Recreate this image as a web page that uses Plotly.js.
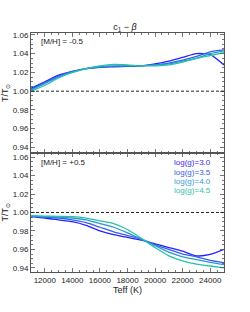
<!DOCTYPE html>
<html><head><meta charset="utf-8">
<script src="https://cdn.plot.ly/plotly-3.0.1.min.js"></script>
<style>html,body{margin:0;padding:0;background:#fff}#chart{width:250px;height:312px}</style>
</head><body><div id="chart"></div>
<script>
const teff = [11000,12000,13000,14000,15000,16000,17000,18000,19000,20000,21000,22000,23000,24000,25000];
const gravityLabels = ['log(g)=3.0','log(g)=3.5','log(g)=4.0','log(g)=4.5'];
const lineColors = ['#2323ff','#3560e8','#2f94d4','#22c4a6'];
const textColors = ['#3a2af5','#3b63e6','#3a9ad6','#2ec4a8'];
// [M/H] = -0.5
const metalPoor = [
  [1.003,1.010,1.017,1.021,1.024,1.0255,1.026,1.0265,1.027,1.029,1.032,1.036,1.040,1.039,1.028],
  [1.002,1.009,1.016,1.021,1.024,1.026,1.0265,1.027,1.027,1.028,1.030,1.033,1.037,1.042,1.044],
  [1.001,1.008,1.015,1.020,1.024,1.026,1.027,1.027,1.027,1.028,1.029,1.032,1.035,1.040,1.043],
  [1.000,1.006,1.014,1.020,1.024,1.027,1.0285,1.028,1.027,1.027,1.028,1.031,1.035,1.038,1.041]
];
// [M/H] = +0.5
const metalRich = [
  [0.9955,0.994,0.992,0.990,0.986,0.980,0.976,0.973,0.970,0.966,0.962,0.958,0.953,0.9545,0.960],
  [0.996,0.995,0.994,0.992,0.989,0.984,0.979,0.975,0.971,0.965,0.960,0.955,0.952,0.948,0.9455],
  [0.996,0.9955,0.995,0.994,0.992,0.988,0.984,0.978,0.971,0.964,0.957,0.952,0.949,0.946,0.9435],
  [0.9965,0.996,0.9958,0.9955,0.994,0.991,0.988,0.9815,0.972,0.962,0.953,0.9475,0.944,0.942,0.940]
];

const traces = [];
metalPoor.forEach((ys,i)=>traces.push({x:teff,y:ys,xaxis:'x2',yaxis:'y2',mode:'lines',
  line:{color:lineColors[i],width:1.3,shape:'spline',smoothing:0.6},showlegend:false,hoverinfo:'skip'}));
metalRich.forEach((ys,i)=>traces.push({x:teff,y:ys,xaxis:'x',yaxis:'y',mode:'lines',
  line:{color:lineColors[i],width:1.3,shape:'spline',smoothing:0.6},showlegend:false,hoverinfo:'skip'}));

const FONT = 'Liberation Sans, Arial, sans-serif';
const tickFont = {family:FONT,size:8,color:'#222'};
const frame = '#555';
function xax(extra){return Object.assign({range:[11000,25000],dtick:2000,tick0:12000,ticks:'inside',ticklen:4,
  tickcolor:frame,tickwidth:0.8,mirror:'allticks',showline:true,linecolor:frame,linewidth:1,showgrid:false,zeroline:false,
  minor:{dtick:500,ticklen:2,tickcolor:frame,ticks:'inside'},tickfont:tickFont,tickformat:'d'},extra);}
function yax(extra){return Object.assign({dtick:0.02,tick0:0.94,ticks:'inside',ticklen:4,
  tickcolor:frame,tickwidth:0.8,mirror:'allticks',showline:true,linecolor:frame,linewidth:1,showgrid:false,zeroline:false,
  minor:{dtick:0.005,ticklen:2,tickcolor:frame,ticks:'inside'},tickfont:tickFont,tickformat:'.2f',
  title:{text:'T/T<sub>\u2299</sub>',font:{family:FONT,size:9,color:'#222'},standoff:2}},extra);}

const annotations = [
  {xref:'x2 domain',yref:'y2 domain',x:0.04,y:0.93,xanchor:'left',yanchor:'middle',showarrow:false,text:'[M/H] = -0.5',font:{family:FONT,size:8,color:'#222'}},
  {xref:'x domain',yref:'y domain',x:0.04,y:0.915,xanchor:'left',yanchor:'middle',showarrow:false,text:'[M/H] = +0.5',font:{family:FONT,size:8,color:'#222'}}
];
gravityLabels.forEach((t,i)=>annotations.push({xref:'x domain',yref:'y domain',x:0.945,y:0.915-i*0.079,xanchor:'right',yanchor:'middle',
  showarrow:false,text:t,font:{family:FONT,size:8,color:textColors[i]}}));

const layout = {
  width:250,height:312,margin:{l:31,r:26,t:33,b:40},paper_bgcolor:'#fff',plot_bgcolor:'#fff',
  title:{text:'c<sub>1</sub> \u2212 <i>\u03b2</i>',x:0.5,xanchor:'center',y:0.913,yanchor:'middle',font:{family:FONT,size:9,color:'#222'}},
  xaxis:xax({anchor:'y',title:{text:'Teff (K)',font:{family:FONT,size:9,color:'#222'},standoff:3}}),
  xaxis2:xax({anchor:'y2',showticklabels:false,matches:'x'}),
  yaxis:yax({domain:[0,0.5],anchor:'x',range:[0.9355,1.065]}),
  yaxis2:yax({domain:[0.5,1],anchor:'x2',range:[0.9346,1.062]}),
  shapes:[
    {type:'line',xref:'x domain',yref:'y',x0:0,x1:1,y0:1,y1:1,line:{color:'#222',width:1,dash:'3px,2px'}},
    {type:'line',xref:'x2 domain',yref:'y2',x0:0,x1:1,y0:1,y1:1,line:{color:'#222',width:1,dash:'3px,2px'}}
  ],
  annotations:annotations,showlegend:false
};
Plotly.newPlot('chart',traces,layout,{staticPlot:true,displayModeBar:false});
</script></body></html>
